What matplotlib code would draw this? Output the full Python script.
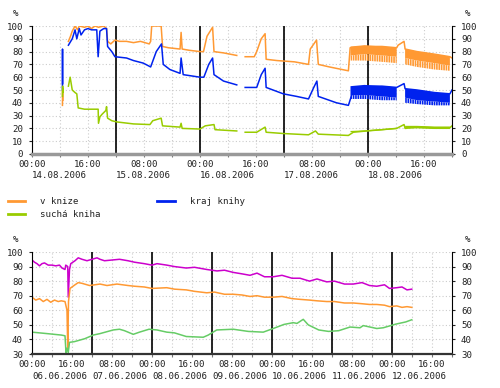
import numpy as np
import matplotlib
matplotlib.use('Agg')
import matplotlib.pyplot as plt
import matplotlib.transforms as mtransforms

nan = np.nan

# ---- top chart: hours from 14.08.2006 00:00 ----
top_dates = ['14.08.2006', '15.08.2006', '16.08.2006', '17.08.2006', '18.08.2006']

top_orange_h = [8.7, 8.75, 8.8, 9.5, 10.4, 11.0, 11.5, 12.3, 13.0, 13.5, 15, 16, 17, 18, 19, 20.5, 21.3, 21.6,
                22.5, 23.7, 25, 27, 29, 31, 33.5, 33.9, 34.2, 36.9, 37.3, 39, 42.3, 42.6, 42.9, 45, 48, 49,
                50, 51.6, 52, 54.7, 58.5, 59, 60.9, 63.5, 64.2, 65.5, 66.6, 66.9, 70, 75, 79, 79.5, 81.3,
                81.8, 85, 90.4, 90.9, 95, 100, 104.2, 104.6, 106.3, 106.6, 110, 115, 119.4, 120]
top_orange_v = [38, 50, 42, nan, 88, 92, 96, 100, 97, 100, 99, 100, 98, 100, 99, 100, 98, 88,
                86, 89, 88, 88, 87, 88, 86, 88, 100, 100, 84, 83, 82, 95, 82, 81, 80, 80,
                92, 99, 80, 79, 77, nan, 76, 76, 80, 90, 94, 74, 73, 72, 70, 82, 89,
                70, 68, 65, 83, 84, 84, 83, 85, 88, 82, 80, 78, 76, 75]

top_blue_h = [8.7, 8.72, 8.75, 9.5, 10.4, 11.5, 12.3, 12.8, 13.5, 14, 15, 16, 17, 18.5, 18.9, 19.4, 20.5, 21.3,
              21.6, 22.8, 23.7, 27, 29, 31.8, 33.9, 35.5, 37, 37.5, 39.4, 42.3, 42.6, 43.2, 48, 49.1, 50.5,
              51.6, 52, 54.7, 58.5, 59, 60.9, 64.2, 65.5, 66.6, 66.9, 71.8, 75.6, 79, 80.5, 81.4, 81.8, 87,
              90.4, 91.8, 95, 100, 104.2, 106.3, 106.6, 110, 115, 119.4, 120]
top_blue_v = [50, 82, 55, nan, 85, 90, 97, 90, 98, 93, 97, 98, 97, 97, 76, 96, 98, 98,
              84, 80, 76, 75, 73, 71, 68, 80, 86, 70, 66, 63, 75, 62, 60, 60, 70,
              75, 62, 57, 54, nan, 52, 52, 62, 67, 52, 47, 45, 43, 52, 57, 45, 40,
              38, 50, 53, 53, 52, 55, 51, 50, 48, 47, 50]

top_green_h = [8.7, 8.75, 8.8, 8.85, 9.5, 10.4, 10.9, 11.5, 12.3, 12.8, 13.2, 15, 17, 18.9, 19.0, 19.4, 20,
               21.1, 21.3, 21.6, 22.8, 24.4, 29, 33.7, 34.5, 36.9, 37.3, 42.3, 42.6, 42.9, 48, 49.5, 52,
               52.3, 58.5, 59, 60.9, 64.2, 66.6, 66.9, 71.8, 79, 81, 81.8, 90.4, 91.8, 95.6, 100, 104.2,
               106.3, 106.6, 110, 115, 119.4, 120]
top_green_v = [45, 53, 48, 51, nan, 53, 60, 50, 48, 47, 36, 35, 35, 35, 24, 29, 31,
               34, 37, 28, 26, 25, 23.5, 23, 26, 28, 22, 21, 24, 20, 19.5, 22, 23,
               19, 18, nan, 17, 17, 21, 17, 16, 15, 18, 15.5, 14.5, 17, 18, 19, 20,
               23, 20, 21, 20.5, 20.5, 22]

# dense oscillating parts (upper edge, solid lower edge, spike lower edge)
band_h = [91.0, 95, 100, 104.2, nan, 106.6, 110, 115, 119.4]
orange_band_hi = [84, 85, 84, 83, nan, 82, 80, 78, 76]
orange_band_mid = [77, 78, 77, 76, nan, 75, 73, 71, 69]
orange_band_lo = [73, 73, 72, 71, nan, 70, 68, 66, 65]
blue_band_hi = [53, 54, 53, 52, nan, 51, 50, 48, 47]
blue_band_mid = [46, 46, 45, 44, nan, 44, 42, 41, 40]
blue_band_lo = [43, 43, 42, 42, nan, 40, 39, 38, 38]
green_band_hi = [18, 18.5, 19.5, 20.5, nan, 22, 22, 21.5, 21.5]
green_band_lo = [17, 17.5, 18.5, 19.5, nan, 20, 20, 19.5, 19.5]

# ---- bottom chart: hours from 06.06.2006 00:00 ----
bot_dates = ['06.06.2006', '07.06.2006', '08.06.2006', '09.06.2006', '10.06.2006', '11.06.2006', '12.06.2006']

bot_mag_h = [0, 1, 2, 3, 4, 5, 6.5, 8, 9.5, 11, 12, 13.2, 13.5, 14.3, 14.5, 15, 15.5, 17.2, 18.5, 20, 22,
             24, 26, 27.2, 29, 32, 35, 38.4, 41, 44.9, 48, 50, 53.9, 57, 61.7, 65, 69.9, 74, 77, 80.5,
             84, 87.2, 90, 93, 96.5, 100, 104, 107.2, 111, 114, 117.9, 121, 125, 128.5, 132, 135,
             137.9, 141, 143, 145.9, 148, 150, 151.9]
bot_mag_v = [94.5, 93, 92, 90.5, 92, 92.5, 91, 91, 90.5, 91, 89, 88, 91, 90, 69, 88, 92, 94, 96, 95, 94,
             95, 96, 95, 94, 94.5, 95, 94, 93, 92, 91, 92, 91, 90, 89, 89.5, 88, 87, 87.5, 86,
             85, 84, 85.5, 83, 83, 84, 82, 82, 80, 81.5, 79.5, 80, 78, 78, 79, 77,
             76.5, 77.5, 75, 75.5, 76, 74, 74.5]

bot_orange_h = [0, 1.5, 3, 4.5, 6, 7.5, 9, 10.5, 11.7, 13.2, 14.0, 14.3, 14.6, 15.2, 17.2, 18.5, 20, 23, 27.2,
                30, 34, 38.4, 41, 44.9, 48, 53.9, 57, 61.7, 65, 69.9, 73, 77, 80.5, 84, 87.2, 90, 93, 96.5,
                100, 104, 107.2, 111, 114, 117.9, 121, 125, 128.5, 132, 135, 137.9, 141, 143, 145.9, 148,
                150, 151.9]
bot_orange_v = [69, 67, 68, 66, 67.5, 65.5, 67, 66, 66.5, 66, 60, 33, 66, 75, 77.5, 79, 78.5, 77, 78,
                77, 78, 77, 76.5, 76, 75, 75.5, 74.5, 74, 73, 72, 72.5, 71, 71, 70.5, 69.5, 70, 69, 69,
                69.5, 68, 67.5, 67, 66.5, 66, 66, 65, 65, 64.5, 64, 64, 63.5, 62.5, 63, 62,
                62.5, 62]

bot_green_h = [0, 6, 11.7, 13.2, 13.6, 14.0, 14.5, 15, 17, 21.1, 24.5, 27.2, 32.5, 35, 37, 40.5, 43, 46.8,
               50, 53.9, 57, 61.7, 68.5, 70.5, 73.9, 80.5, 86.5, 92.5, 96.5, 100.8, 104.5, 106, 108.5,
               110.5, 114.7, 118.6, 122.7, 127.2, 131.2, 132.5, 137.9, 140.5, 145.5, 149.5, 151.9]
bot_green_v = [45, 44, 43, 42.5, 31, 34, 31, 38, 38.5, 40.5, 43, 44, 46.5, 47, 46, 43.5, 45, 47,
               46.5, 45, 44.5, 42, 41.5, 43, 46.5, 47, 45.5, 45, 47.5, 50.3, 51.5, 51, 53.8,
               50, 46.5, 45.5, 46, 48.5, 48, 49.5, 47.5, 48, 50.5, 52, 53.5]

legend_labels = ['v knize', 'suchá kniha', 'kraj knihy']

orange = '#ff9933'
blue = '#0022ee'
lime = '#99cc00'
magenta = '#cc00cc'
green2 = '#66cc66'

plt.rcParams['font.family'] = 'DejaVu Sans Mono'
plt.rcParams['font.size'] = 6.6
plt.rcParams['hatch.linewidth'] = 1.2
txt = '#222222'

fig = plt.figure(figsize=(5, 3.88), dpi=100)
W, H = 500.0, 388.0
ax1 = fig.add_axes([32 / W, 1 - 154 / H, 420 / W, 128 / H])
ax2 = fig.add_axes([32 / W, 1 - 354 / H, 420 / W, 102 / H])


def style(ax, ymin, ymax, xmax, days, dates, date_y, bottom_col, bottom_lw):
    ax.set_xlim(0, xmax)
    ax.set_ylim(ymin, ymax)
    ax.set_yticks(np.arange(ymin, ymax + 1, 10))
    ax.set_xticks(np.arange(0, xmax + 1, 8))
    labels = []
    for h in np.arange(0, xmax + 1, 8):
        labels.append('%02d:00' % (h % 24) if h % 16 == 0 and h < xmax else '')
    ax.set_xticklabels(labels)
    ax.grid(True, color='#cccccc', linestyle=(0, (1, 2)), lw=0.8)
    ax.set_axisbelow(True)
    for d in range(1, days):
        ax.axvline(24 * d, color='black', lw=1.2, zorder=1)
    ax.spines['top'].set_visible(False)
    ax.spines['left'].set_color('black')
    ax.spines['right'].set_color('black')
    ax.spines['bottom'].set_color(bottom_col)
    ax.spines['bottom'].set_linewidth(bottom_lw)
    ax.tick_params(axis='y', which='both', left=True, right=True, labelleft=True, labelright=True,
                   length=2.5, width=0.8, pad=4, colors=txt)
    ax.tick_params(axis='x', length=2.5, width=0.8, pad=1.5, colors=txt)
    ax.tick_params(axis='x', color='#777777')
    trans = mtransforms.blended_transform_factory(ax.transData, ax.transAxes)
    for i, d in enumerate(dates):
        ax.text(24 * i, date_y, d, transform=trans, ha='left', va='center', color=txt)


style(ax1, 0, 100, 120, 5, top_dates, -0.17, '#999999', 2.5)
style(ax2, 30, 100, 168, 7, bot_dates, -0.222, '#333333', 1.6)

# top chart: dense parts, solid top half and sawtooth-like lower half
ax1.fill_between(band_h, orange_band_mid, orange_band_hi, color=orange, lw=0)
ax1.fill_between(band_h, orange_band_lo, orange_band_mid, facecolor='none', edgecolor=orange,
                 hatch='|||||||', lw=0)
ax1.fill_between(band_h, blue_band_mid, blue_band_hi, color=blue, lw=0)
ax1.fill_between(band_h, blue_band_lo, blue_band_mid, facecolor='none', edgecolor=blue,
                 hatch='|||||||', lw=0)
ax1.fill_between(band_h, green_band_lo, green_band_hi, color=lime, lw=0)
l1, = ax1.plot(top_orange_h, top_orange_v, color=orange, lw=1.1)
l3, = ax1.plot(top_blue_h, top_blue_v, color=blue, lw=1.1)
l2, = ax1.plot(top_green_h, top_green_v, color=lime, lw=1.1)

# bottom chart
ax2.plot(bot_mag_h, bot_mag_v, color=magenta, lw=1.1)
ax2.plot(bot_orange_h, bot_orange_v, color=orange, lw=1.1)
ax2.plot(bot_green_h, bot_green_v, color=green2, lw=1.1)

for yy in (13.3, 240):
    fig.text(15.7 / W, 1 - yy / H, '%', ha='center', va='center', color=txt)
    fig.text(468 / W, 1 - yy / H, '%', ha='center', va='center', color=txt)

fig.legend([l1, l2, l3], legend_labels, loc='upper left', bbox_to_anchor=(8 / W, 1 - 197 / H),
           ncol=2, frameon=False, handlelength=1.9, handletextpad=1.6, columnspacing=6.2,
           labelspacing=0.45, borderaxespad=0, borderpad=0, labelcolor=txt)
for lh in fig.legends[0].legend_handles:
    lh.set_linewidth(2)

fig.savefig('out.png', dpi=100)
